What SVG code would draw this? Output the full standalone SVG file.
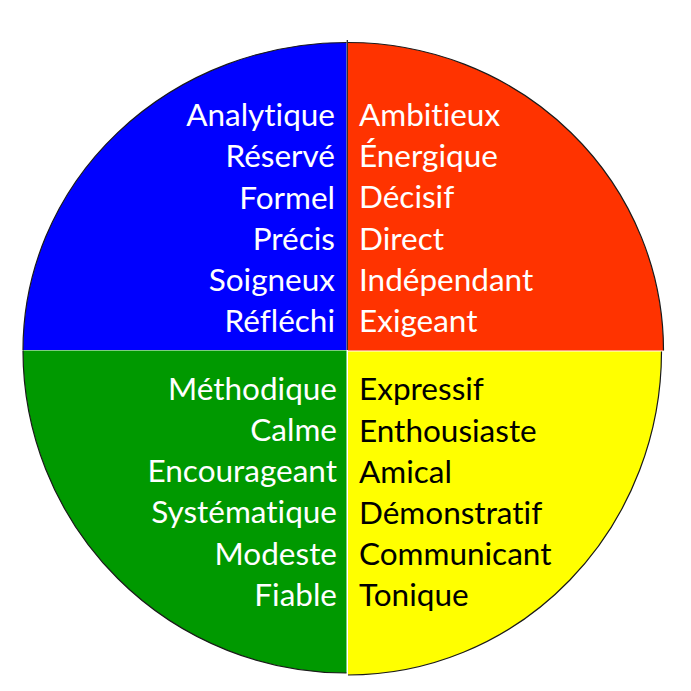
<svg xmlns="http://www.w3.org/2000/svg" width="691" height="691" viewBox="0 0 691 691">
  <style>
    .arc { fill: none; stroke: #1a1a1a; stroke-width: 1.2; }
    .lbl { font-family: Lato, "Liberation Sans", sans-serif; font-size: 31.5px; font-variant-ligatures: none; font-feature-settings: "liga" 0, "clig" 0; }
    .w { fill: #ffffff; }
    .k { fill: #000000; }
    .r { text-anchor: end; }
  </style>
  <rect width="691" height="691" fill="#ffffff"/>

  <g id="quadrant-blue">
    <path d="M346.5,350 L23,350 A323.5,307.5 0 0 1 346.5,42.5 Z" fill="#0000FF"/>
    <path class="arc" d="M23,350 A323.5,307.5 0 0 1 346.5,42.5"/>
    <g class="lbl w r">
      <text x="335" y="126">Analytique</text>
      <text x="335" y="167">Réservé</text>
      <text x="335" y="208.5">Formel</text>
      <text x="335" y="250">Précis</text>
      <text x="335" y="291">Soigneux</text>
      <text x="335" y="332">Réfléchi</text>
    </g>
  </g>

  <g id="quadrant-red">
    <path d="M348,350.5 L348,42.5 A315.5,308 0 0 1 663.5,350.5 Z" fill="#FF3300"/>
    <path class="arc" d="M348,42.5 A315.5,308 0 0 1 663.5,350.5"/>
    <g class="lbl w">
      <text x="359" y="126">Ambitieux</text>
      <text x="359" y="167">Énergique</text>
      <text x="359" y="208">Décisif</text>
      <text x="359" y="249.5">Direct</text>
      <text x="359" y="290.5">Indépendant</text>
      <text x="359" y="331.5">Exigeant</text>
    </g>
  </g>

  <g id="quadrant-green">
    <path d="M346.5,350.5 L346.5,673 A323.5,322.5 0 0 1 23,350.5 Z" fill="#009900"/>
    <path class="arc" d="M346.5,673 A323.5,322.5 0 0 1 23,350.5"/>
    <g class="lbl w r">
      <text x="337" y="399.5">Méthodique</text>
      <text x="337" y="440.5">Calme</text>
      <text x="337" y="482">Encourageant</text>
      <text x="337" y="523">Systématique</text>
      <text x="337" y="564.5">Modeste</text>
      <text x="337" y="606">Fiable</text>
    </g>
  </g>

  <g id="quadrant-yellow">
    <path d="M348,351.5 L661.5,351.5 A313.5,323.5 0 0 1 348,675 Z" fill="#FFFF00"/>
    <path class="arc" d="M661.5,351.5 A313.5,323.5 0 0 1 348,675"/>
    <g class="lbl k">
      <text x="359" y="400">Expressif</text>
      <text x="359" y="441.5">Enthousiaste</text>
      <text x="359" y="482.5">Amical</text>
      <text x="359" y="523.5">Démonstratif</text>
      <text x="359" y="565">Communicant</text>
      <text x="359" y="606">Tonique</text>
    </g>
  </g>

  <g id="connectors">
    <line x1="347.3" y1="40" x2="347.3" y2="350" stroke="#1a1a1a" stroke-width="1.2"/>
  </g>
</svg>
